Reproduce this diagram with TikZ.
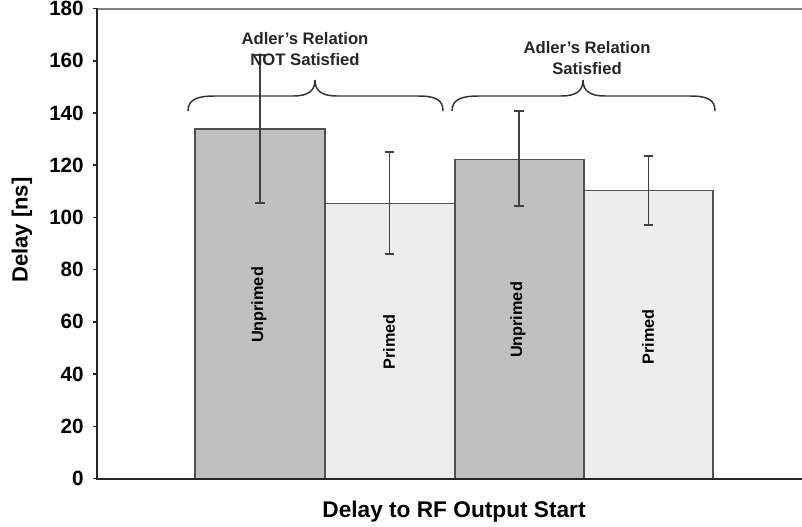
\documentclass[tikz,border=0pt]{standalone}
\usepackage{fontspec}
\setmainfont{Liberation Sans}
\begin{document}
\begin{tikzpicture}[x=0.75pt,y=-0.75pt,
  ticklab/.style={anchor=east,inner sep=0pt,font=\bfseries\fontsize{15.5}{18}\selectfont},
  bardark/.style={fill=barD,draw=barE,line width=1pt},
  barlight/.style={fill=barL,draw=barE,line width=1pt},
  errbar/.style={draw=black!75,line width=1.3pt},
  barlab/.style={rotate=90,inner sep=0pt,font=\bfseries\fontsize{12.2}{14}\selectfont},
  annot/.style={align=center,inner sep=0pt,font=\bfseries\fontsize{12.5}{15.75}\selectfont,text=black!85},
  bracestyle/.style={draw=black!80,line width=1.1pt}]
\definecolor{barD}{HTML}{C0C0C0}
\definecolor{barL}{HTML}{EDEDED}
\definecolor{barE}{HTML}{505050}
\useasboundingbox (0,0) rectangle (802,526);
\fill[white] (0,0) rectangle (802,526);
% frame top
\draw[draw=black!50,line width=1.5pt] (97,8.5) -- (802,8.5);
% bars
\path[bardark] (195,478.5) rectangle (325,129);
\path[barlight] (325,478.5) rectangle (455,203.3);
\path[bardark] (455,478.5) rectangle (584,159.3);
\path[barlight] (584,478.5) rectangle (713,190.7);
% error bars
\coordinate (e1t) at (260,55); \coordinate (e1b) at (260,203);
\coordinate (e2t) at (389.5,152.3); \coordinate (e2b) at (389.5,254);
\coordinate (e3t) at (519,110.7); \coordinate (e3b) at (519,206);
\coordinate (e4t) at (648.5,155.7); \coordinate (e4b) at (648.5,225);
\foreach \e in {1,2,3,4}{
  \draw[errbar] (e\e t) -- (e\e b);
  \draw[errbar] ([xshift=-3.5]e\e t) -- ([xshift=3.5]e\e t);
  \draw[errbar] ([xshift=-3.5]e\e b) -- ([xshift=3.5]e\e b);
}
% axes
\draw[line width=1.5pt,black!85] (97,8) -- (97,478.5) -- (802,478.5);
\foreach \v/\yy in {0/478.5,20/426.3,40/374.1,60/321.8,80/269.6,100/217.4,120/165.2,140/112.9,160/60.7,180/8.5}{
  \draw[line width=1.2pt,black!85] (93,\yy) -- (97,\yy);
  \node[ticklab] (t\v) at (84,\yy) {\v};
}
\node[rotate=90,inner sep=0pt,font=\bfseries\fontsize{16.5}{18}\selectfont] (ytitle) at (22,230) {Delay [ns]};
\node[inner sep=0pt,font=\bfseries\fontsize{17}{20}\selectfont] (xtitle) at (454,512) {Delay to RF Output Start};
% bar labels
\node[barlab] (l1) at (259,305) {Unprimed};
\node[barlab] (l2) at (389,342) {Primed};
\node[barlab] (l3) at (518,320) {Unprimed};
\node[barlab] (l4) at (648,337) {Primed};
% braces
\draw[bracestyle] (188,111) .. controls (188,99) and (198,96) .. (215,96) -- (293,96)
  .. controls (308,96) and (315,91) .. (315,80) .. controls (315,91) and (322,96) .. (337,96)
  -- (418,96) .. controls (436,96) and (443,100) .. (443,111);
\draw[bracestyle] (452,111) .. controls (452,99) and (462,96) .. (479,96) -- (561,96)
  .. controls (576,96) and (583,91) .. (583,80) .. controls (583,91) and (590,96) .. (605,96)
  -- (690,96) .. controls (708,96) and (715,100) .. (715,111);
% annotations
\node[annot] (a1) at (305,49.5) {Adler's Relation\\NOT Satisfied};
\node[annot] (a2) at (587,58) {Adler's Relation\\Satisfied};
\end{tikzpicture}
\end{document}
